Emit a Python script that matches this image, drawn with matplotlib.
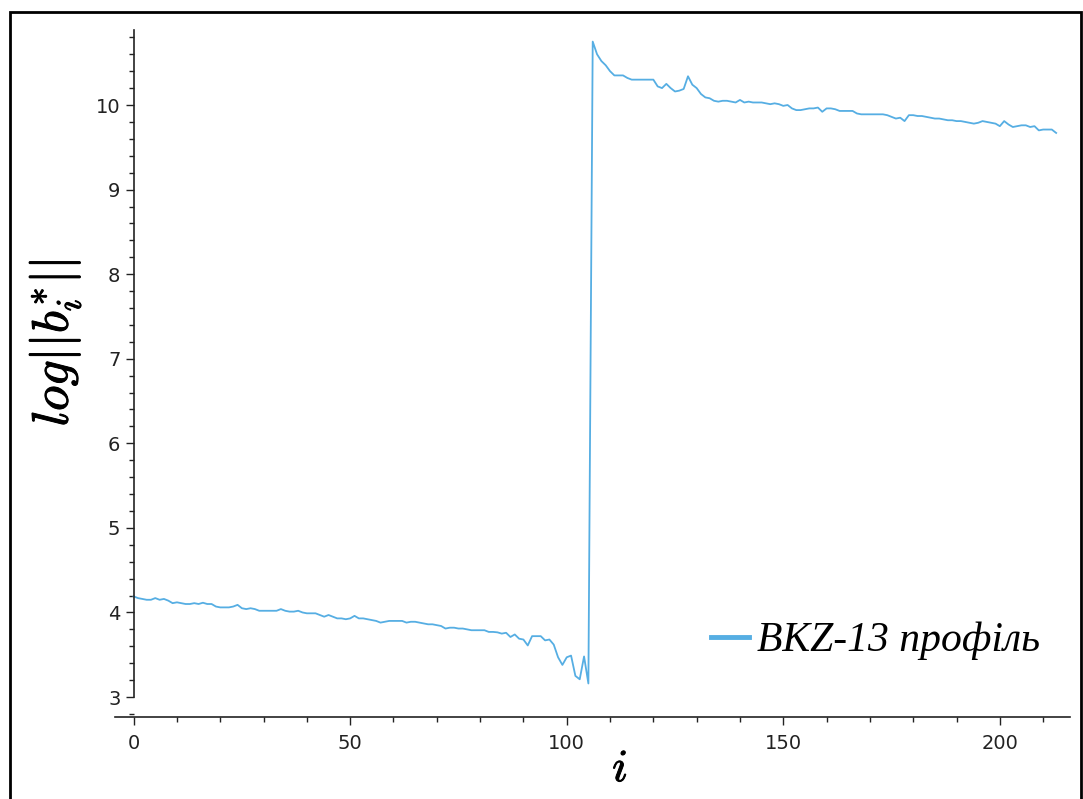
import matplotlib.pyplot as plt
import matplotlib as mpl
import matplotlib.patheffects as pe
from matplotlib.patches import Rectangle
from matplotlib.ticker import MultipleLocator

mpl.rcParams.update({
    'mathtext.fontset': 'cm',
    'font.size': 14,
})

# log of Gram-Schmidt norms, first block (i = 0..105)
low_part = [
    4.19, 4.17, 4.16, 4.15, 4.15, 4.17, 4.15, 4.16, 4.14, 4.11,
    4.12, 4.11, 4.10, 4.10, 4.11, 4.10, 4.115, 4.10, 4.10, 4.07,
    4.06, 4.06, 4.06, 4.07, 4.09, 4.05, 4.04, 4.05, 4.04, 4.02,
    4.02, 4.02, 4.02, 4.02, 4.04, 4.02, 4.01, 4.01, 4.02, 4.00,
    3.99, 3.99, 3.99, 3.97, 3.95, 3.97, 3.95, 3.93, 3.93, 3.92,
    3.93, 3.96, 3.93, 3.93, 3.92, 3.91, 3.90, 3.88, 3.89, 3.90,
    3.90, 3.90, 3.90, 3.88, 3.89, 3.89, 3.88, 3.87, 3.86, 3.86,
    3.85, 3.84, 3.81, 3.82, 3.82, 3.81, 3.81, 3.80, 3.79, 3.79,
    3.79, 3.79, 3.77, 3.77, 3.765, 3.75, 3.76, 3.71, 3.74, 3.69,
    3.68, 3.61, 3.72, 3.72, 3.72, 3.67, 3.68, 3.62, 3.47, 3.38,
    3.47, 3.49, 3.25, 3.21, 3.48, 3.16,
]
# second block (i = 106..213)
high_part = [
    10.75, 10.60, 10.52, 10.47, 10.40, 10.35, 10.35, 10.35, 10.32, 10.30,
    10.30, 10.30, 10.30, 10.30, 10.30, 10.22, 10.20, 10.25, 10.20, 10.16,
    10.17, 10.19, 10.34, 10.24, 10.20, 10.13, 10.09, 10.08, 10.05, 10.04,
    10.05, 10.05, 10.04, 10.03, 10.06, 10.03, 10.04, 10.03, 10.03, 10.03,
    10.02, 10.01, 10.02, 10.01, 9.99, 10.00, 9.96, 9.94, 9.94, 9.95,
    9.96, 9.96, 9.97, 9.92, 9.96, 9.96, 9.95, 9.93, 9.93, 9.93,
    9.93, 9.90, 9.89, 9.89, 9.89, 9.89, 9.89, 9.89, 9.88, 9.86,
    9.84, 9.85, 9.81, 9.88, 9.88, 9.87, 9.87, 9.86, 9.85, 9.84,
    9.84, 9.83, 9.82, 9.82, 9.81, 9.81, 9.80, 9.79, 9.78, 9.79,
    9.81, 9.80, 9.79, 9.78, 9.75, 9.81, 9.77, 9.74, 9.75, 9.76,
    9.76, 9.74, 9.75, 9.70, 9.71, 9.71, 9.71, 9.67,
]
log_norms = low_part + high_part
indices = list(range(len(log_norms)))

W, H = 1083, 799
fig = plt.figure(figsize=(W / 100, H / 100), dpi=100)

# axes box in pixels: x 115..1070, y 30..717 (from top)
ax = fig.add_axes([115 / W, 1 - 717 / H, 955 / W, 687 / H])
ax.set_xlim(-4.3, 216.2)
ax.set_ylim(2.764, 10.887)

ax.plot(indices, log_norms, color='#56aee3', lw=1.3, label='BKZ-13 профіль')

# sage-like axes: y axis through x=0, x axis just below the data
for s in ['top', 'right']:
    ax.spines[s].set_visible(False)
ax.spines['left'].set_position(('data', 0))
ax.spines['left'].set_bounds(3, 10.887)
for s in ['left', 'bottom']:
    ax.spines[s].set_linewidth(1.2)
    ax.spines[s].set_color('#222222')

ax.xaxis.set_major_locator(MultipleLocator(50))
ax.xaxis.set_minor_locator(MultipleLocator(10))
ax.yaxis.set_major_locator(MultipleLocator(1))
ax.yaxis.set_minor_locator(MultipleLocator(0.2))
ax.tick_params(which='major', length=6, width=1, color='#222222', labelcolor='#222222')
ax.tick_params(which='minor', length=3.5, width=1, color='#222222')
ax.tick_params(axis='x', which='major', pad=6)
ax.set_xticks([0, 50, 100, 150, 200])
ax.set_yticks([3, 4, 5, 6, 7, 8, 9, 10])

heavy = [pe.withStroke(linewidth=0.7, foreground='black')]
fig.text(620 / W, 1 - 769 / H, '$i$', fontsize=33, ha='center', va='center',
         path_effects=heavy)
fig.text(55 / W, 1 - 343 / H, r'$log||b_i^{*}||$', fontsize=37,
         rotation=90, ha='center', va='center', path_effects=heavy)

leg = ax.legend(loc='center left', bbox_to_anchor=(711 / W, 1 - 641 / H),
                bbox_transform=fig.transFigure, frameon=False,
                handlelength=0.9, handletextpad=0.2, borderpad=0,
                borderaxespad=0,
                prop={'family': 'Liberation Serif', 'style': 'italic', 'size': 30})
leg.legend_handles[0].set_linewidth(3.5)

# outer frame
fig.patches.append(Rectangle((10 / W, -0.05), 1071 / W, 1.05 - 12 / H,
                             transform=fig.transFigure, fill=False,
                             edgecolor='black', lw=2))

plt.savefig('out.png', dpi=100)
